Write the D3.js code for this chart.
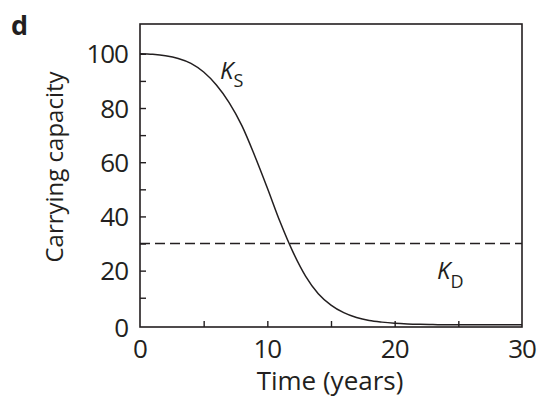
<!DOCTYPE html>
<html><head><meta charset="utf-8">
<script src="https://cdn.jsdelivr.net/npm/d3@7"></script>
<style>body{margin:0;background:#fff}svg{display:block}text{font-family:"Open Sans",sans-serif;fill:#231f20}</style>
</head><body>
<script>
const years = [0,1,2,3,4,5,6,7,8,9,10,11,12,13,14,15,16,17,18,19,20,21,22,23,24,25,26,27,28,29,30];
const carryingS = [100,99.8,99.3,98.3,96.5,93.3,88.5,82,73.5,62.5,50.5,38,27,18,11.5,7.3,4.5,2.7,1.6,1,0.6,0.35,0.2,0.1,0.05,0.03,0,0,0,0,0];
const carryingD = 30;
const xTicks = [0,5,10,15,20,25,30];
const xLabels = [0,10,20,30];
const yTicks = [0,10,20,30,40,50,60,70,80,90,100];
const yLabels = [0,20,40,60,80,100];

const W=542,H=400;
const svg=d3.select("body").append("svg").attr("width",W).attr("height",H);
const x=d3.scaleLinear().domain([0,30]).range([140,522]);
const y=d3.scaleLinear().domain([-0.8,111]).range([327,24]);
const ink="#231f20";

svg.append("rect").attr("x",140).attr("y",24).attr("width",382).attr("height",303)
  .attr("fill","none").attr("stroke",ink).attr("stroke-width",1.6);

svg.append("g").attr("transform","translate(0,327)")
  .call(d3.axisTop(x).tickValues(xTicks.slice(1,-1)).tickSize(6).tickFormat(""))
  .call(g=>{g.select(".domain").remove();g.selectAll("line").attr("stroke",ink).attr("stroke-width",1.4);});
svg.append("g").attr("transform","translate(140,0)")
  .call(d3.axisRight(y).tickValues(yTicks.slice(1)).tickSize(6).tickFormat(""))
  .call(g=>{g.select(".domain").remove();g.selectAll("line").attr("stroke",ink).attr("stroke-width",1.4);});

svg.append("g").selectAll("text").data(xLabels).join("text")
  .attr("x",d=>x(d)).attr("y",358).attr("text-anchor","middle")
  .attr("font-size",26).attr("letter-spacing",-1).text(d=>d);
svg.append("g").selectAll("text").data(yLabels).join("text")
  .attr("x",128).attr("y",d=>y(d)+ (d===0?12:9.5)).attr("text-anchor","end")
  .attr("font-size",26).attr("letter-spacing",-1).text(d=>d);

svg.append("text").attr("x",330).attr("y",390).attr("text-anchor","middle")
  .attr("font-size",26).text("Time (years)");
svg.append("text").attr("transform","translate(63,167) rotate(-90)").attr("text-anchor","middle")
  .attr("font-size",24).text("Carrying capacity");
svg.append("text").attr("x",11).attr("y",35).attr("font-size",27).attr("font-weight","bold").text("d");

svg.append("line").attr("x1",x(0)).attr("x2",x(30)).attr("y1",y(carryingD)).attr("y2",y(carryingD))
  .attr("stroke",ink).attr("stroke-width",1.4).attr("stroke-dasharray","10,5");

const line=d3.line().x((d,i)=>x(years[i])).y(d=>y(d)).curve(d3.curveMonotoneX);
svg.append("path").attr("d",line(carryingS)).attr("fill","none").attr("stroke",ink).attr("stroke-width",1.5);

const ks=svg.append("text").attr("x",220).attr("y",79).attr("font-size",24);
ks.append("tspan").attr("font-style","italic").text("K");
ks.append("tspan").attr("font-size",18).attr("dy",8).text("S");
const kd=svg.append("text").attr("x",437).attr("y",279).attr("font-size",24);
kd.append("tspan").attr("font-style","italic").text("K");
kd.append("tspan").attr("font-size",18).attr("dy",9).text("D");
</script>
</body></html>
